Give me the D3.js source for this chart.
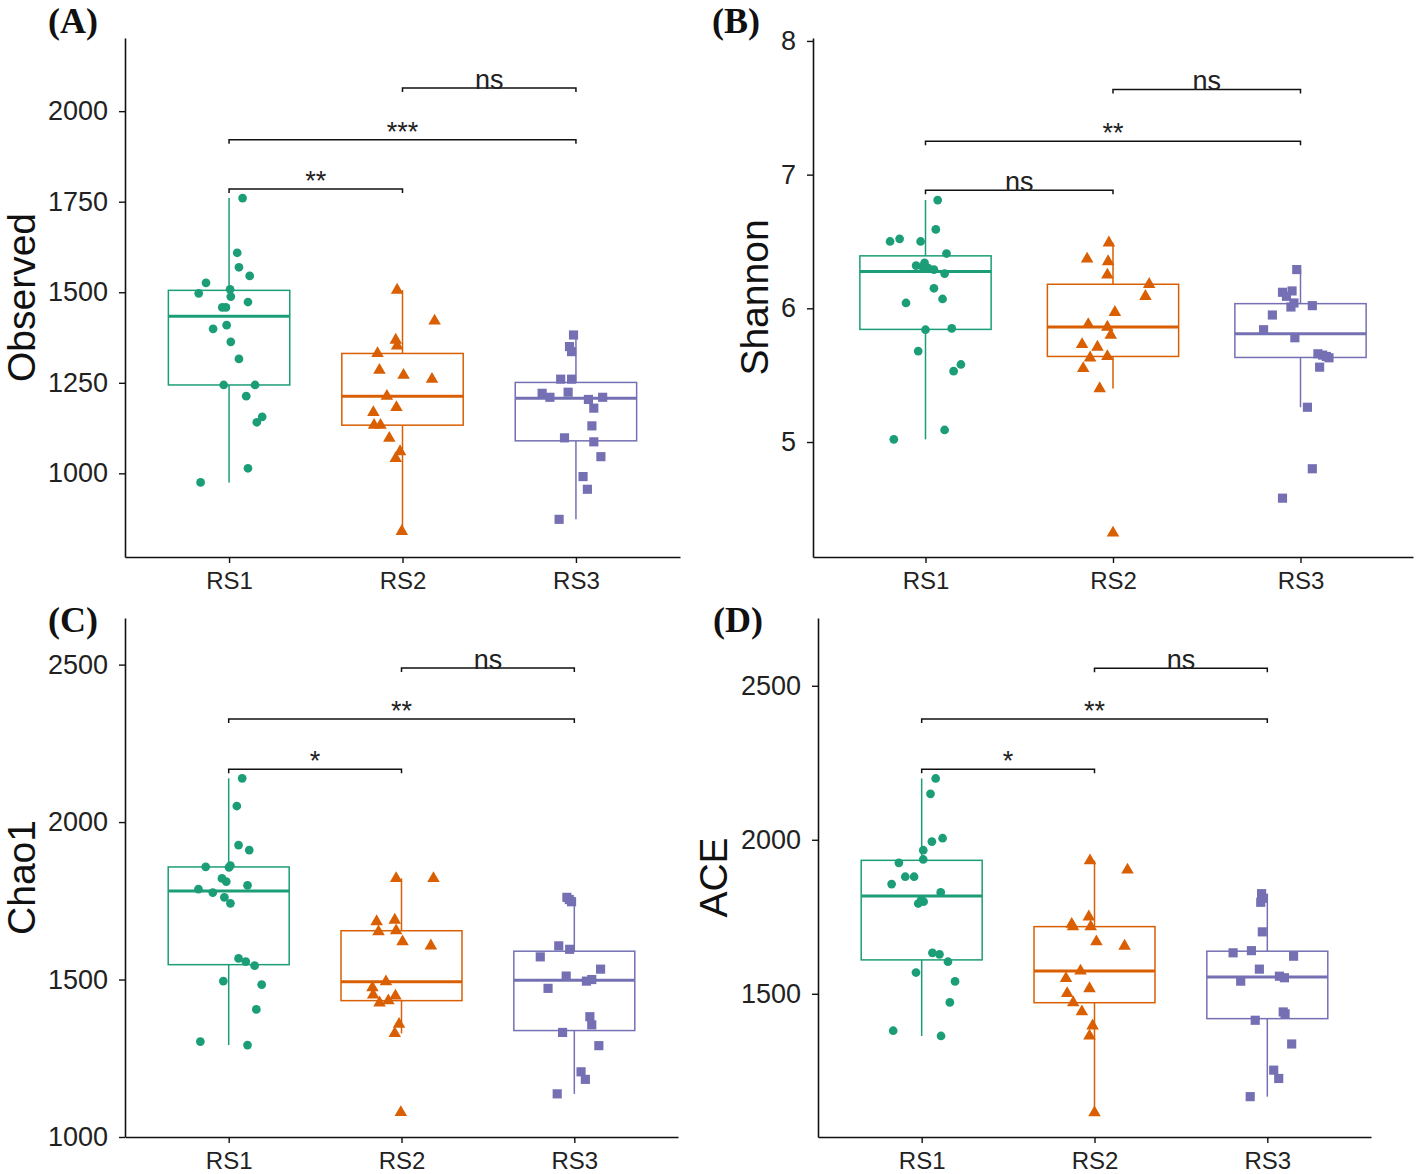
<!DOCTYPE html>
<html>
<head>
<meta charset="utf-8">
<script src="https://cdn.jsdelivr.net/npm/d3@7"></script>
<style>
  body { margin: 0; background: #fff; }
  text { font-family: "Liberation Sans", Arial, sans-serif; }
</style>
</head>
<body>
<div id="viz"></div>
<script>
// Alpha diversity boxplots, 4 panels

const groups = ["RS1", "RS2", "RS3"];
const groupColors = ["#1B9E77", "#D95F02", "#7570B3"];

// each point: [horizontal jitter in category steps, value]
const observedRS1 = [[0.078,1760],[0.047,1609],[0.057,1569],[0.119,1545],[-0.133,1526],[0.006,1508],[-0.175,1497],[0.010,1488],[0.109,1473],[-0.039,1458],[-0.018,1458],[-0.014,1409],[-0.092,1399],[0.010,1363],[0.057,1316],[-0.031,1244],[0.150,1244],[0.099,1213],[0.191,1156],[0.160,1141],[0.109,1014],[-0.164,975]];
const observedRS2 = [[-0.031,1506],[0.185,1421],[-0.039,1368],[-0.031,1352],[-0.144,1331],[-0.133,1285],[0.006,1271],[0.170,1260],[-0.090,1213],[-0.035,1182],[-0.168,1168],[-0.164,1133],[-0.127,1133],[-0.076,1097],[-0.014,1060],[-0.039,1041],[-0.004,840]];
const observedRS3 = [[-0.014,1382],[-0.037,1350],[-0.025,1336],[-0.088,1260],[-0.025,1260],[-0.195,1221],[-0.150,1210],[-0.045,1224],[0.072,1204],[0.154,1210],[0.103,1180],[0.092,1131],[-0.066,1098],[0.103,1087],[0.144,1046],[0.041,991],[0.066,956],[-0.097,873]];

const shannonRS1 = [[0.065,6.81],[0.055,6.59],[-0.189,6.50],[-0.138,6.52],[-0.026,6.50],[0.112,6.41],[-0.05,6.32],[-0.005,6.34],[-0.015,6.31],[0.015,6.30],[0.045,6.29],[0.102,6.26],[0.045,6.15],[-0.104,6.04],[0.091,6.07],[0.0,5.84],[0.140,5.85],[-0.039,5.68],[0.189,5.58],[0.150,5.53],[0.102,5.09],[-0.169,5.02]];
const shannonRS2 = [[-0.022,6.49],[-0.138,6.37],[-0.026,6.35],[-0.030,6.25],[0.193,6.18],[0.173,6.09],[0.010,5.97],[-0.132,5.88],[-0.030,5.86],[-0.012,5.80],[-0.165,5.73],[-0.083,5.71],[-0.122,5.63],[-0.030,5.64],[-0.159,5.55],[-0.071,5.40],[0.0,4.32]];
const shannonRS3 = [[-0.020,6.29],[-0.096,6.12],[-0.045,6.13],[-0.075,6.09],[-0.035,6.04],[-0.051,6.01],[0.063,6.02],[-0.150,5.95],[-0.197,5.84],[-0.030,5.78],[0.093,5.66],[0.118,5.65],[0.152,5.63],[0.138,5.64],[0.102,5.56],[0.037,5.26],[0.063,4.80],[-0.096,4.58]];

const chao1RS1 = [[0.078,2139],[0.047,2051],[0.057,1927],[0.119,1911],[-0.133,1858],[0.010,1862],[0.002,1856],[-0.039,1821],[-0.014,1811],[0.109,1799],[-0.175,1787],[-0.092,1776],[-0.025,1761],[0.010,1742],[0.057,1567],[0.099,1557],[0.150,1544],[-0.031,1495],[0.191,1484],[0.160,1405],[-0.164,1303],[0.109,1292]];
const chao1RS2 = [[-0.031,1821],[0.185,1821],[-0.144,1684],[-0.039,1689],[-0.133,1652],[-0.031,1655],[0.006,1620],[0.170,1607],[-0.090,1493],[-0.168,1474],[-0.164,1451],[-0.127,1426],[-0.076,1433],[-0.035,1448],[-0.014,1358],[-0.039,1329],[-0.004,1078]];
const chao1RS3 = [[-0.043,1761],[-0.029,1754],[-0.016,1747],[-0.090,1607],[-0.027,1596],[-0.197,1572],[0.152,1533],[-0.047,1511],[0.070,1495],[0.101,1500],[-0.152,1472],[0.090,1382],[0.101,1356],[-0.068,1332],[0.142,1290],[0.039,1207],[0.064,1183],[-0.099,1137]];

const aceRS1 = [[0.081,2199],[0.051,2149],[0.121,2005],[0.059,1994],[0.009,1966],[0.009,1936],[-0.132,1925],[-0.095,1880],[-0.044,1880],[-0.174,1856],[0.110,1829],[-0.002,1806],[-0.020,1793],[0.011,1799],[0.062,1633],[0.103,1628],[0.152,1604],[-0.033,1569],[0.193,1540],[0.163,1472],[-0.165,1380],[0.112,1363]];
const aceRS2 = [[-0.026,1932],[0.191,1902],[-0.033,1750],[-0.132,1726],[-0.125,1718],[-0.022,1718],[0.011,1669],[0.174,1655],[-0.081,1574],[-0.165,1550],[-0.029,1517],[-0.158,1501],[-0.123,1471],[-0.073,1442],[-0.011,1396],[-0.029,1363],[0.0,1114]];
const aceRS3 = [[-0.033,1825],[-0.026,1810],[-0.038,1797],[-0.029,1701],[-0.198,1633],[-0.092,1640],[0.152,1622],[-0.046,1580],[-0.154,1541],[0.070,1557],[0.099,1552],[0.092,1441],[0.103,1435],[-0.070,1414],[0.141,1337],[0.037,1252],[0.066,1225],[-0.099,1166]];

// significance brackets
const bracketPairs = [["RS1","RS2"], ["RS1","RS3"], ["RS2","RS3"]];
const observedSig = ["**", "***", "ns"];
const observedSigY = [1785, 1921, 2064];
const shannonSig = ["ns", "**", "ns"];
const shannonSigY = [6.883, 7.249, 7.637];
const chao1Sig = ["*", "**", "ns"];
const chao1SigY = [2168, 2327, 2489];
const aceSig = ["*", "**", "ns"];
const aceSigY = [2229, 2392, 2557];

// y axes
const observedTicks = [1000, 1250, 1500, 1750, 2000];
const observedRange = [769, 2202];
const shannonTicks = [5, 6, 7, 8];
const shannonRange = [4.14, 8.022];
const chao1Ticks = [1000, 1500, 2000, 2500];
const chao1Range = [1000, 2648];
const aceTicks = [1500, 2000, 2500];
const aceRange = [1035, 2720];

const panels = [
    {tag: "(A)", title: "Observed", data: [observedRS1, observedRS2, observedRS3], sig: observedSig, sigY: observedSigY,
     ticks: observedTicks, range: observedRange, left: 125, right: 680, top: 38, bottom: 557, titleX: 35, tagX: 48, tagY: 33},
    {tag: "(B)", title: "Shannon", data: [shannonRS1, shannonRS2, shannonRS3], sig: shannonSig, sigY: shannonSigY,
     ticks: shannonTicks, range: shannonRange, left: 813, right: 1413, top: 38, bottom: 557, titleX: 768, tagX: 712, tagY: 33},
    {tag: "(C)", title: "Chao1", data: [chao1RS1, chao1RS2, chao1RS3], sig: chao1Sig, sigY: chao1SigY,
     ticks: chao1Ticks, range: chao1Range, left: 125, right: 678, top: 618, bottom: 1137, titleX: 35, tagX: 48, tagY: 632},
    {tag: "(D)", title: "ACE", data: [aceRS1, aceRS2, aceRS3], sig: aceSig, sigY: aceSigY,
     ticks: aceTicks, range: aceRange, left: 818, right: 1371, top: 618, bottom: 1137, titleX: 727, tagX: 713, tagY: 632}
];

const shapes = [d3.symbolCircle, d3.symbolTriangle, d3.symbolSquare];
const shapeSizes = [60, 68, 84];
const boxWidth = 0.7; // in category steps

const svg = d3.select("#viz")
    .append("svg")
    .attr("width", 1416)
    .attr("height", 1174)
    .style("display", "block")
    .style("background-color", "#fff");

// same five numbers ggplot uses (type 7 quantiles, 1.5 IQR whiskers)
function boxStats(vals) {
    const s = vals.slice().sort(d3.ascending);
    const q1 = d3.quantileSorted(s, 0.25);
    const med = d3.quantileSorted(s, 0.5);
    const q3 = d3.quantileSorted(s, 0.75);
    const iqr = q3 - q1;
    const lo = d3.min(s.filter(v => v >= q1 - 1.5 * iqr));
    const hi = d3.max(s.filter(v => v <= q3 + 1.5 * iqr));
    return {q1, med, q3, lo, hi};
}

panels.forEach(p => {
    const g = svg.append("g");

    const x = d3.scalePoint()
        .domain(groups)
        .range([p.left, p.right])
        .padding(0.6);
    const step = x.step();

    const y = d3.scaleLinear()
        .domain(p.range)
        .range([p.bottom, p.top]);

    // boxes
    p.data.forEach((pts, i) => {
        const st = boxStats(pts.map(d => d[1]));
        const cx = x(groups[i]);
        const hw = boxWidth * step / 2;
        const col = groupColors[i];
        const bg = g.append("g").attr("stroke", col).attr("fill", "none");

        bg.append("line")
            .attr("x1", cx).attr("x2", cx)
            .attr("y1", y(st.hi)).attr("y2", y(st.q3))
            .attr("stroke-width", 1.5);
        bg.append("line")
            .attr("x1", cx).attr("x2", cx)
            .attr("y1", y(st.q1)).attr("y2", y(st.lo))
            .attr("stroke-width", 1.5);
        bg.append("rect")
            .attr("x", cx - hw)
            .attr("y", y(st.q3))
            .attr("width", 2 * hw)
            .attr("height", y(st.q1) - y(st.q3))
            .attr("fill", "#fff")
            .attr("stroke-width", 1.5);
        bg.append("line")
            .attr("x1", cx - hw).attr("x2", cx + hw)
            .attr("y1", y(st.med)).attr("y2", y(st.med))
            .attr("stroke-width", 3);
    });

    // jittered points
    p.data.forEach((pts, i) => {
        g.selectAll(null)
            .data(pts)
            .enter()
            .append("path")
            .attr("d", d3.symbol().type(shapes[i]).size(shapeSizes[i])())
            .attr("transform", d => `translate(${x(groups[i]) + d[0] * step}, ${y(d[1])})`)
            .attr("fill", groupColors[i]);
    });

    // axes
    const yAxis = g.append("g")
        .attr("transform", `translate(${p.left},0)`)
        .call(d3.axisLeft(y).tickValues(p.ticks).tickFormat(d3.format("d"))
            .tickSize(6).tickSizeOuter(0).tickPadding(11));
    const xAxis = g.append("g")
        .attr("transform", `translate(0,${p.bottom})`)
        .call(d3.axisBottom(x).tickSize(6).tickSizeOuter(0).tickPadding(9));

    [yAxis, xAxis].forEach(ax => {
        ax.select(".domain").attr("stroke", "#111").attr("stroke-width", 1.6);
        ax.selectAll(".tick line").attr("stroke", "#111").attr("stroke-width", 1.4);
        ax.selectAll(".tick text")
            .attr("fill", "#222")
            .style("font-family", "'Liberation Sans', Arial, sans-serif");
    });
    yAxis.selectAll(".tick text").style("font-size", "27px");
    xAxis.selectAll(".tick text").style("font-size", "24px");

    // axis title
    g.append("text")
        .attr("transform", `translate(${p.titleX},${(p.top + p.bottom) / 2}) rotate(-90)`)
        .attr("text-anchor", "middle")
        .attr("font-size", "39px")
        .attr("fill", "#111")
        .text(p.title);

    // panel tag
    g.append("text")
        .attr("x", p.tagX)
        .attr("y", p.tagY)
        .style("font-family", "'Liberation Serif', 'Times New Roman', serif")
        .attr("font-weight", "bold")
        .attr("font-size", "36px")
        .attr("fill", "#111")
        .text(p.tag);

    // comparison brackets
    bracketPairs.forEach((pair, k) => {
        const x1 = x(pair[0]), x2 = x(pair[1]);
        const by = y(p.sigY[k]);
        g.append("path")
            .attr("d", `M${x1},${by + 4}V${by}H${x2}V${by + 4}`)
            .attr("fill", "none")
            .attr("stroke", "#111")
            .attr("stroke-width", 1.5);
        g.append("text")
            .attr("x", (x1 + x2) / 2)
            .attr("y", by + 1)
            .attr("text-anchor", "middle")
            .attr("font-size", "27px")
            .attr("fill", "#222")
            .text(p.sig[k]);
    });
});
</script>
</body>
</html>
